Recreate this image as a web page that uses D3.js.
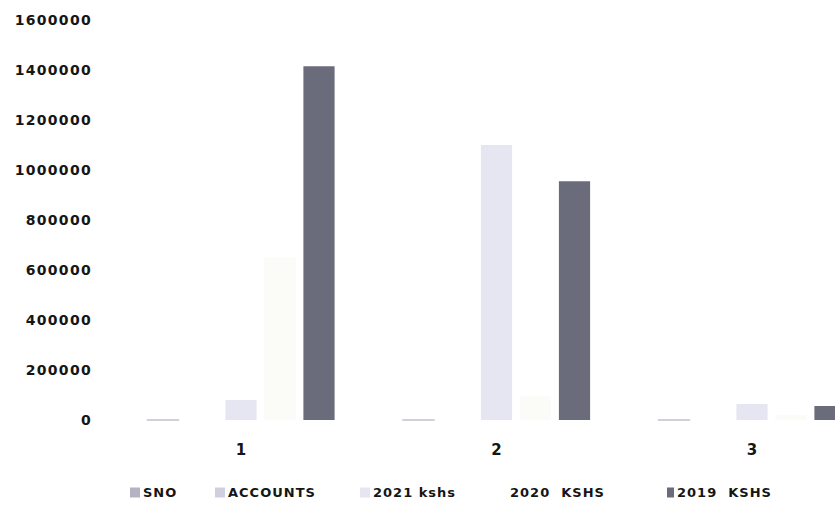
<!DOCTYPE html>
<html>
<head>
<meta charset="utf-8">
<script src="https://cdn.jsdelivr.net/npm/d3@7"></script>
<style>
  html, body { margin: 0; padding: 0; background: #fff; }
  svg { display: block; }
  text { font-family: "DejaVu Sans", sans-serif; font-weight: bold; fill: #151515; }
</style>
</head>
<body>
<svg id="chart" width="835" height="506"></svg>
<script>
// Categories and series
const categories = ["1", "2", "3"];
const seriesNames = ["SNO", "ACCOUNTS", "2021 kshs", "2020  KSHS", "2019  KSHS"];

// Values per series, one per category
const sno      = [1, 2, 3];
const accounts = [0, 0, 0];
const kshs2021 = [80000, 1100000, 64000];
const kshs2020 = [650000, 95000, 20000];
const kshs2019 = [1415000, 955000, 56000];

const yTicks = [0, 200000, 400000, 600000, 800000, 1000000, 1200000, 1400000, 1600000];

const seriesValues = [sno, accounts, kshs2021, kshs2020, kshs2019];
const colors = ["#b3b3c3", "#cfcfe0", "#e6e6f2", "#fbfbf8", "#6b6c7b"];

const svg = d3.select("#chart");

const y = d3.scaleLinear().domain([0, 1600000]).range([420, 20]);

// Group band: each category occupies one band; last one runs past the right edge
const x0 = d3.scaleBand().domain(categories).range([113.25, 879.75]).padding(0);
const x1 = d3.scaleBand().domain(seriesNames).range([-97.5, 97.5])
  .paddingInner(0.2).paddingOuter(0.1);

// Y axis labels
const yAxis = d3.axisLeft(y).tickValues(yTicks).tickSize(0).tickPadding(0)
  .tickFormat(d3.format("d"));
const gy = svg.append("g").attr("transform", "translate(92,0)").call(yAxis);
gy.select(".domain").remove();
gy.selectAll("text")
  .attr("font-size", 14)
  .attr("letter-spacing", "1.3px")
  .attr("font-family", "DejaVu Sans")
  .attr("font-weight", "bold")
  .attr("fill", "#151515");

// Bars
const groups = svg.append("g").selectAll("g")
  .data(categories)
  .join("g")
  .attr("transform", d => `translate(${x0(d) + x0.bandwidth() / 2},0)`);

groups.selectAll("rect")
  .data((c, i) => seriesNames.map((s, k) => ({ s, k, v: seriesValues[k][i] })))
  .join("rect")
  .attr("x", d => x1(d.s))
  .attr("width", x1.bandwidth())
  .attr("y", d => y(d.v))
  .attr("height", d => y(0) - y(d.v))
  .attr("fill", d => colors[d.k])
  .attr("stroke", d => d.k === 0 ? colors[0] : "none")
  .attr("stroke-width", 1.2);

// Category labels
const xAxis = d3.axisBottom(x0).tickSize(0).tickPadding(0);
const gx = svg.append("g").attr("transform", "translate(0,444)").call(xAxis);
gx.select(".domain").remove();
gx.selectAll("text")
  .attr("font-size", 15)
  .attr("font-family", "DejaVu Sans")
  .attr("font-weight", "bold")
  .attr("fill", "#151515");

// Legend
const legendX = [130, 215, 360, 497, 667];
const legend = svg.append("g").selectAll("g")
  .data(seriesNames)
  .join("g")
  .attr("transform", (d, i) => `translate(${legendX[i]},492)`);

legend.append("rect")
  .attr("x", 0).attr("y", -4.5)
  .attr("width", (d, i) => i === 4 ? 7 : 10)
  .attr("height", 10)
  .attr("fill", (d, i) => i === 3 ? "#ffffff" : colors[i]);

legend.append("text")
  .attr("x", (d, i) => i === 4 ? 10 : 13)
  .attr("y", 0)
  .attr("dy", "0.36em")
  .attr("font-size", 13)
  .attr("letter-spacing", "1px")
  .attr("xml:space", "preserve")
  .style("white-space", "pre")
  .text(d => d);
</script>
</body>
</html>
